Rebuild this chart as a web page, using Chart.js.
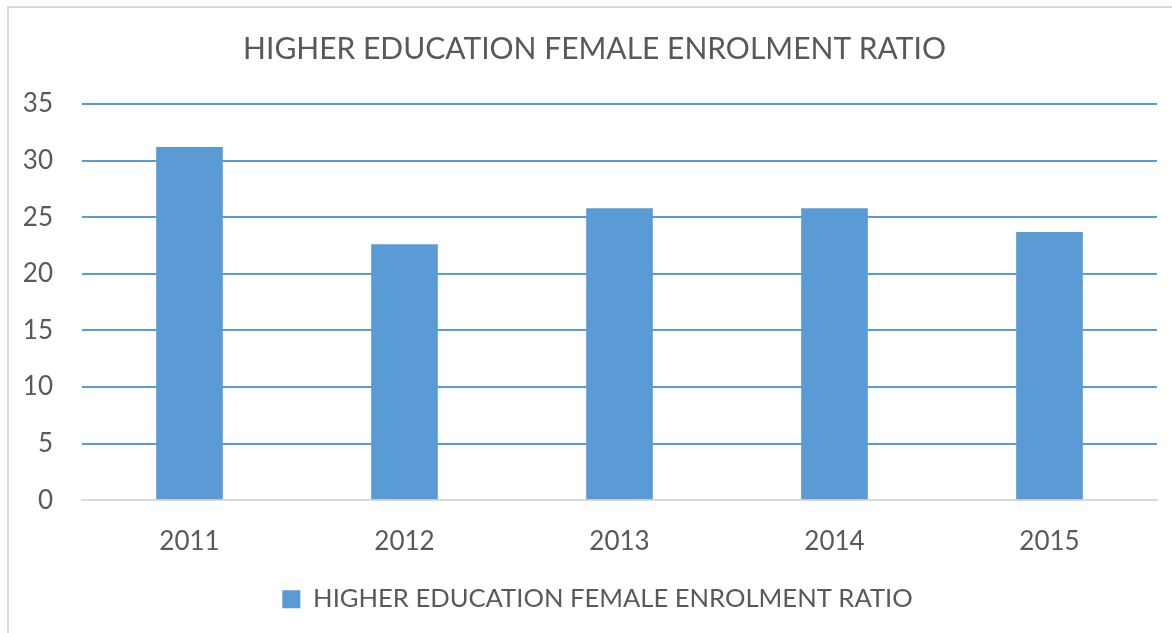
<!DOCTYPE html>
<html>
<head>
<meta charset="utf-8">
<script src="https://cdn.jsdelivr.net/npm/chart.js@4"></script>
<style>
  body { margin: 0; background: #fff; }
  #wrap { position: relative; width: 1172px; height: 633px; }
  #frame { position: absolute; left: 7px; top: 6px; right: -5px; bottom: -5px; border: 2px solid #d9d9d9; pointer-events: none; }
</style>
</head>
<body>
<div id="wrap">
  <canvas id="enrolChart" width="1172" height="633"></canvas>
  <div id="frame"></div>
</div>
<script>
// chart data
const years = ["2011", "2012", "2013", "2014", "2015"];
const ratio = [31.2, 22.6, 25.8, 25.8, 23.7];
const seriesName = "HIGHER EDUCATION FEMALE ENROLMENT RATIO";
const chartTitle = "HIGHER EDUCATION FEMALE ENROLMENT RATIO";

const textGrey = "#595959";
const fontName = "Lato, 'Open Sans', sans-serif";

// title and legend sit a bit right of the canvas centre in the original
const nudgeTitleLegend = {
    id: "nudgeTitleLegend",
    afterLayout(chart) {
        if (chart.titleBlock) { chart.titleBlock.left += 16; chart.titleBlock.right += 16; }
        if (chart.legend) { chart.legend.left += 19; chart.legend.right += 19; }
    }
};

new Chart(document.getElementById("enrolChart"), {
    type: "bar",
    data: {
        labels: years,
        datasets: [{
            label: seriesName,
            data: ratio,
            backgroundColor: "#5b9bd5",
            categoryPercentage: 1,
            barPercentage: 0.31
        }]
    },
    options: {
        responsive: false,
        animation: false,
        layout: { padding: { left: 0, right: 15, top: 0, bottom: 11 } },
        plugins: {
            title: {
                display: true,
                text: chartTitle,
                color: textGrey,
                font: { family: fontName, size: 30, weight: "normal" },
                padding: { top: 31, bottom: 37 }
            },
            legend: {
                position: "bottom",
                labels: {
                    color: textGrey,
                    font: { family: fontName, size: 25.6 },
                    boxWidth: 18,
                    boxHeight: 18,
                    padding: 3
                }
            },
            tooltip: { enabled: false }
        },
        scales: {
            x: {
                grid: { display: false, drawTicks: false },
                border: { color: "#d9d9d9", width: 2 },
                ticks: { color: textGrey, font: { family: fontName, size: 26 }, padding: 26 }
            },
            y: {
                min: 0,
                max: 35,
                ticks: { stepSize: 5, color: textGrey, font: { family: fontName, size: 26 }, padding: 29 },
                grid: {
                    drawTicks: false,
                    color: ctx => ctx.tick.value === 0 ? "#d9d9d9" : "#5b9bd5",
                    lineWidth: 2
                },
                border: { display: false },
                afterFit: scale => { scale.width = 82; }
            }
        }
    },
    plugins: [nudgeTitleLegend]
});
</script>
</body>
</html>
